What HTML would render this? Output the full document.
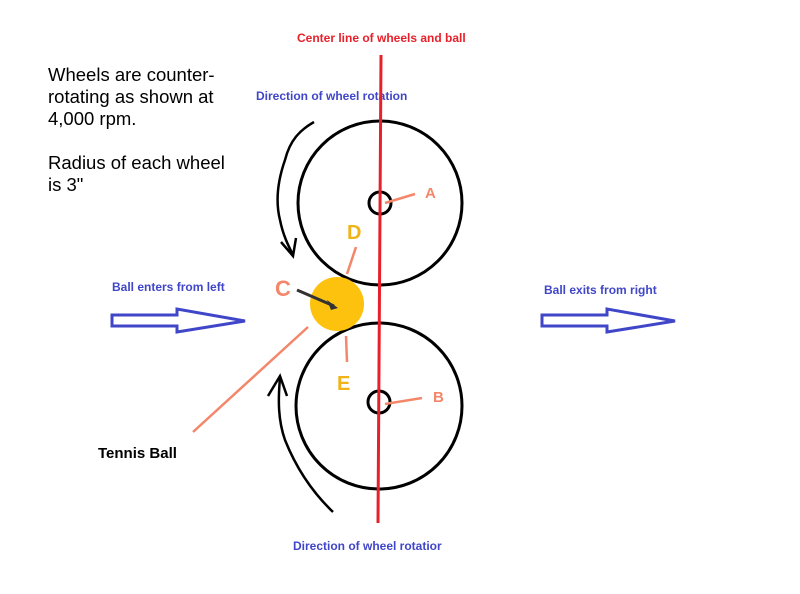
<!DOCTYPE html>
<html><head><style>
html,body{margin:0;padding:0;background:#fff;}
svg{display:block;}
text{font-family:"Liberation Sans",Arial,sans-serif;}
</style></head><body>
<svg width="800" height="594" viewBox="0 0 800 594" xmlns="http://www.w3.org/2000/svg">
<text x="297" y="42" font-size="12" font-weight="bold" fill="#e8202a">Center line of wheels and ball</text>
<text x="48" y="81" font-size="18.5" fill="#000">Wheels are counter-</text>
<text x="48" y="103" font-size="18.5" fill="#000">rotating as shown at</text>
<text x="48" y="125" font-size="18.5" fill="#000">4,000 rpm.</text>
<text x="48" y="169" font-size="18.5" fill="#000">Radius of each wheel</text>
<text x="48" y="191" font-size="18.5" fill="#000">is 3"</text>
<text x="256" y="100" font-size="12" font-weight="bold" fill="#4046c8">Direction of wheel rotation</text>
<text x="112" y="291" font-size="12" font-weight="bold" fill="#4046c8">Ball enters from left</text>
<text x="544" y="294" font-size="12" font-weight="bold" fill="#4046c8">Ball exits from right</text>
<text x="293" y="550" font-size="12" font-weight="bold" fill="#4046c8">Direction of wheel rotatior</text>
<text x="98" y="458" font-size="15" font-weight="bold" fill="#000">Tennis Ball</text>
<path d="M112,315 L177,315 L177,309 L245,321 L177,332 L177,326 L112,326 Z" fill="none" stroke="#4046c8" stroke-width="3"/>
<path d="M542,315 L607,315 L607,309 L675,321 L607,332 L607,326 L542,326 Z" fill="none" stroke="#4046c8" stroke-width="3"/>
<circle cx="380" cy="203" r="82" fill="none" stroke="#000" stroke-width="3"/>
<circle cx="379" cy="406" r="83" fill="none" stroke="#000" stroke-width="3"/>
<circle cx="380" cy="203" r="11" fill="none" stroke="#000" stroke-width="3"/>
<circle cx="379" cy="402" r="11" fill="none" stroke="#000" stroke-width="3"/>
<line x1="381" y1="55" x2="378" y2="523" stroke="#e8202a" stroke-width="3"/>
<circle cx="337" cy="304" r="27" fill="#fcc20e"/>
<line x1="297" y1="290" x2="334" y2="306" stroke="#333" stroke-width="3"/>
<path d="M338,308 L327,300 L331,310 Z" fill="#333"/>
<g stroke="#f4866a" stroke-width="2.5" fill="#f4866a">
<line x1="415" y1="194" x2="385" y2="203"/>
<line x1="422" y1="398" x2="385" y2="404"/>
<line x1="356" y1="247" x2="347" y2="274"/>
<line x1="347" y1="362" x2="346" y2="336"/>
<line x1="193" y1="432" x2="308" y2="327"/>
</g>
<text x="425" y="198" font-size="15" font-weight="bold" fill="#f4866a">A</text>
<text x="433" y="402" font-size="15" font-weight="bold" fill="#f4866a">B</text>
<text x="275" y="296" font-size="22" font-weight="bold" fill="#f4866a">C</text>
<text x="347" y="239" font-size="20" font-weight="bold" fill="#f0b418">D</text>
<text x="337" y="390" font-size="20" font-weight="bold" fill="#f0b418">E</text>
<path d="M314,122 C300,130 290,140 285,160 C278,180 275,200 280,220 C283,235 288,245 293,255" fill="none" stroke="#000" stroke-width="2.5"/>
<path d="M281,242 L293,256 L296,238" fill="none" stroke="#000" stroke-width="2.5"/>
<path d="M333,512 C310,490 295,465 285,440 C278,420 278,400 280,378" fill="none" stroke="#000" stroke-width="2.5"/>
<path d="M268,396 L280,376 L287,396" fill="none" stroke="#000" stroke-width="2.5"/>
</svg>
</body></html>
